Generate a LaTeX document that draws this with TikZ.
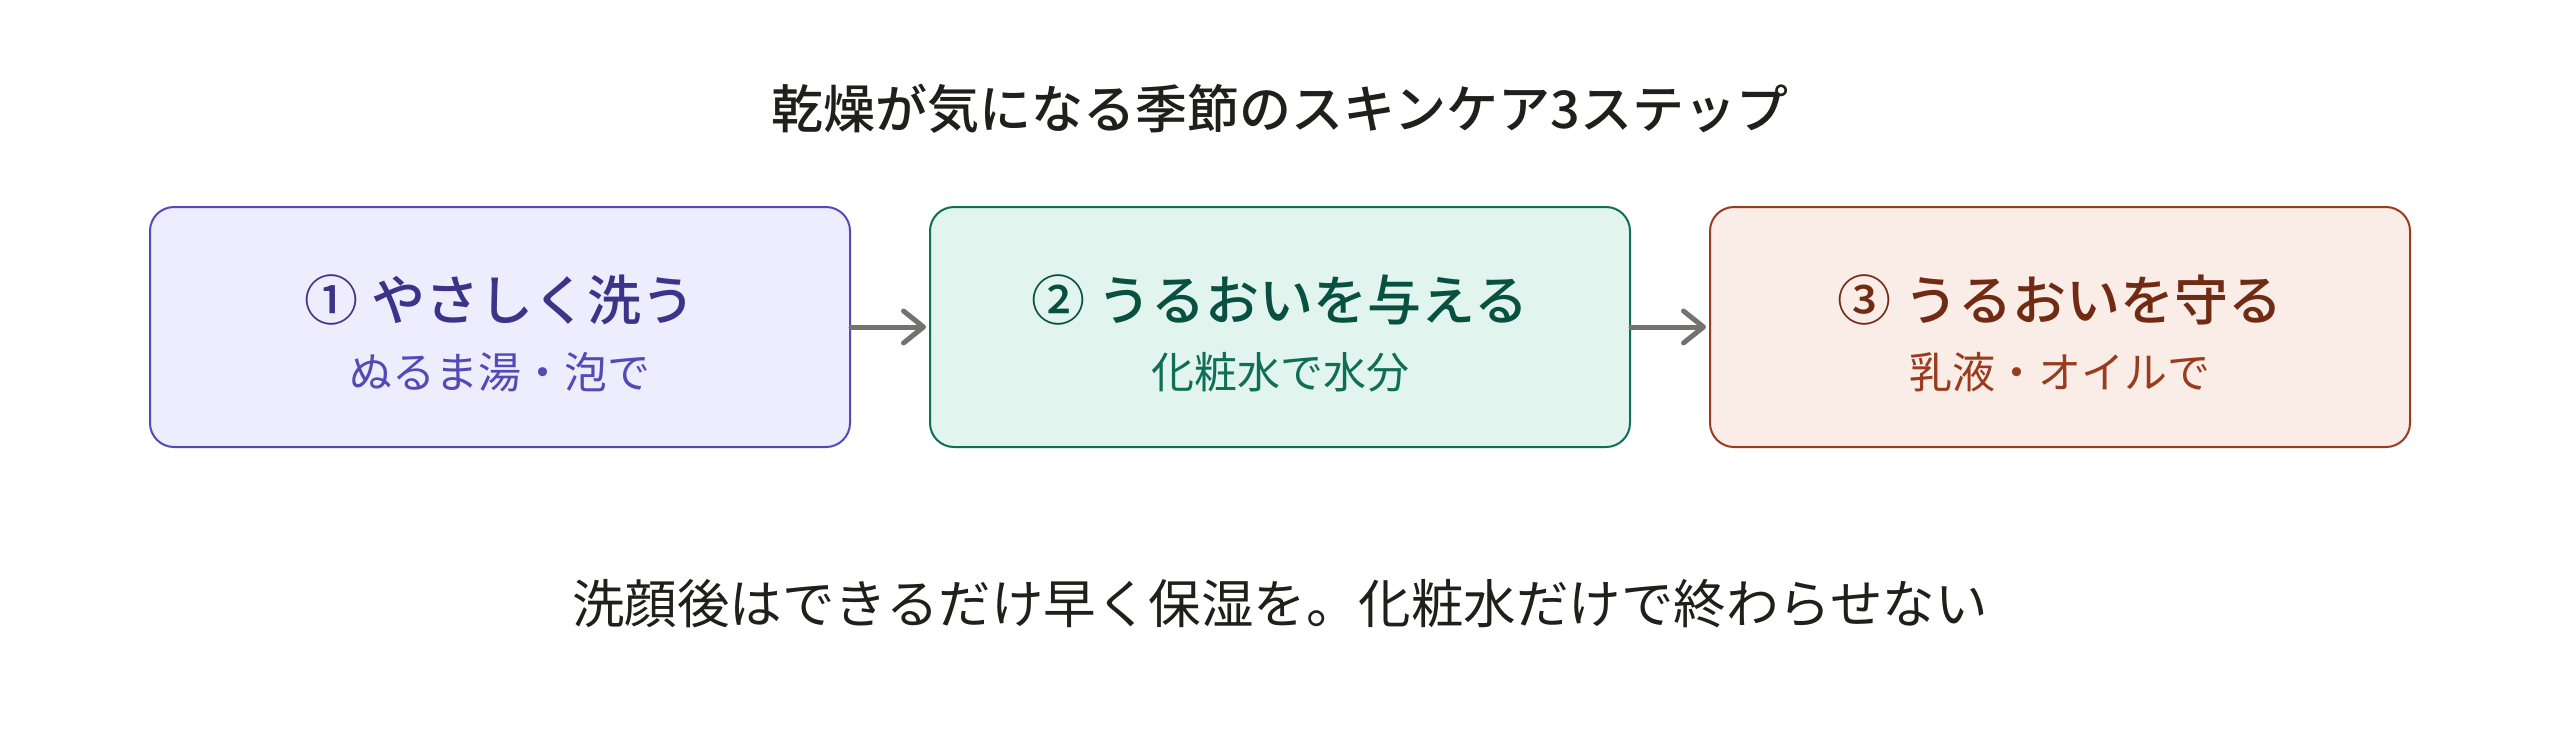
\documentclass[tikz,border=0pt]{standalone}
\usepackage{fontspec}
\newfontfamily\jp{Noto Sans CJK JP}
\newfontfamily\jpm{Noto Sans CJK JP Medium}
\usetikzlibrary{arrows.meta}
\definecolor{titlec}{HTML}{1F1F1D}
\definecolor{pfill}{HTML}{EEEDFE}
\definecolor{pline}{HTML}{534AB7}
\definecolor{pdark}{HTML}{3C3489}
\definecolor{tfill}{HTML}{E1F5EE}
\definecolor{tline}{HTML}{0F6E56}
\definecolor{tdark}{HTML}{085041}
\definecolor{cfill}{HTML}{FAECE7}
\definecolor{cline}{HTML}{993C1D}
\definecolor{cdark}{HTML}{712B13}
\definecolor{arrowc}{HTML}{73726C}
\tikzset{
  stepbox/.style={draw, line width=2pt, rounded corners=24pt, minimum width=700pt, minimum height=240pt, inner sep=0pt},
  heading/.style={anchor=base, inner sep=0pt, font=\jpm\fontsize{54}{60}\selectfont},
  subtext/.style={anchor=base, inner sep=0pt, font=\jp\fontsize{43}{50}\selectfont},
  titletext/.style={anchor=base, inner sep=0pt, text=titlec, font=\jpm\fontsize{52}{60}\selectfont},
  foottext/.style={anchor=base, inner sep=0pt, text=titlec, font=\jp\fontsize{52.5}{60}\selectfont},
  flow/.style={draw=arrowc, line width=5pt, line cap=round, line join=round, -{Straight Barb[length=20pt,width=32pt,line cap=round,line join=round]}}
}
\begin{document}
\begin{tikzpicture}[x=1pt,y=1pt]
\useasboundingbox (0,0) rectangle (2560,-734);
\fill[white] (0,0) rectangle (2560,-734);
\node[titletext] (title) at (1280,-128) {乾燥が気になる季節のスキンケア3ステップ};
\node[stepbox, fill=pfill, draw=pline] (s1) at (500,-327) {};
\node[stepbox, fill=tfill, draw=tline] (s2) at (1280,-327) {};
\node[stepbox, fill=cfill, draw=cline] (s3) at (2060,-327) {};
\node[heading, text=pdark] (h1) at ([yshift=7pt]s1.center) {① やさしく洗う};
\node[subtext, text=pline] (d1) at ([yshift=-61pt]s1.center) {ぬるま湯・泡で};
\node[heading, text=tdark] (h2) at ([yshift=7pt]s2.center) {② うるおいを与える};
\node[subtext, text=tline] (d2) at ([yshift=-61pt]s2.center) {化粧水で水分};
\node[heading, text=cdark] (h3) at ([yshift=7pt]s3.center) {③ うるおいを守る};
\node[subtext, text=cline] (d3) at ([yshift=-61pt]s3.center) {乳液・オイルで};
\draw[flow] (s1.east) -- ([xshift=-3pt]s2.west);
\draw[flow] (s2.east) -- ([xshift=-3pt]s3.west);
\node[foottext] (foot) at (1280,-623) {洗顔後はできるだけ早く保湿を。化粧水だけで終わらせない};
\end{tikzpicture}
\end{document}
